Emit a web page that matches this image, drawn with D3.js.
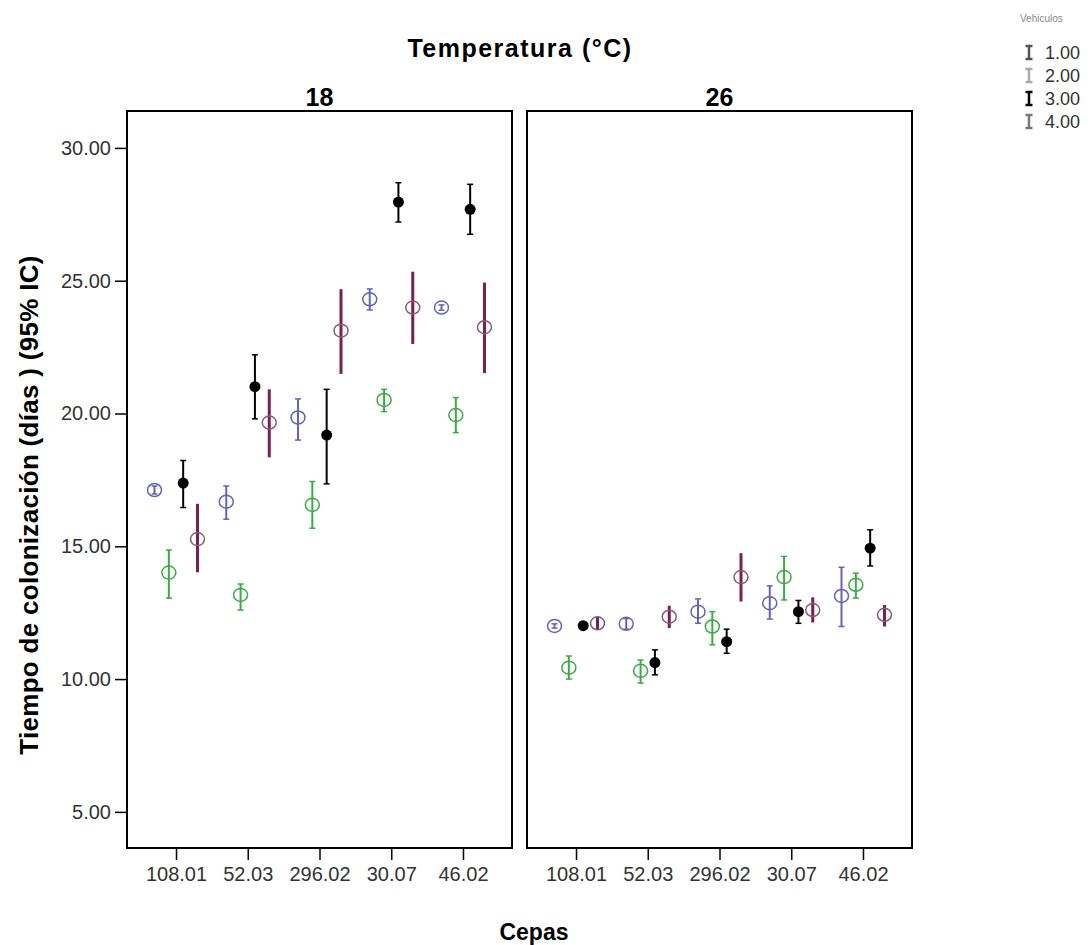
<!DOCTYPE html>
<html><head><meta charset="utf-8">
<script src="https://cdn.jsdelivr.net/npm/d3@7"></script>
<style>body{margin:0;background:#fff;} svg{display:block;font-family:"Liberation Sans",Arial,sans-serif;}</style>
</head><body>
<svg id="c" width="1092" height="945"></svg>
<script>
const cepas = ["108.01","52.03","296.02","30.07","46.02"];
const temperaturas = ["18","26"];
const vehiculos = ["1.00","2.00","3.00","4.00"];
const yTicks = [5,10,15,20,25,30];
// mean, lower, upper per temperatura -> vehiculo -> cepa
const mean18 = [
  [17.12,16.68,19.85,24.30,23.99],
  [14.01,13.17,16.56,20.51,19.94],
  [17.38,21.01,19.19,27.96,27.69],
  [15.27,19.66,23.12,23.99,23.25]];
const low18 = [
  [16.97,16.02,19.00,23.90,23.89],
  [13.05,12.60,15.68,20.07,19.28],
  [16.46,19.80,17.35,27.21,26.75],
  [14.02,18.35,21.49,22.62,21.52]];
const up18 = [
  [17.27,17.27,20.55,24.69,24.09],
  [14.86,13.58,17.44,20.91,20.60],
  [18.23,22.21,20.91,28.69,28.63],
  [16.60,20.91,24.68,25.34,24.93]];
const mean26 = [
  [12.00,12.08,12.54,12.86,13.13],
  [10.43,10.31,11.98,13.84,13.55],
  [12.01,10.62,11.41,12.54,14.93],
  [12.10,12.35,13.84,12.60,12.42]];
const low26 = [
  [11.92,11.88,12.10,12.26,11.98],
  [10.00,9.85,11.29,12.98,13.05],
  [11.93,10.16,10.97,12.10,14.26],
  [11.85,11.92,12.92,12.13,11.98]];
const up26 = [
  [12.08,12.28,13.02,13.51,14.21],
  [10.87,10.72,12.54,14.62,13.99],
  [12.09,11.10,11.88,12.96,15.62],
  [12.35,12.76,14.74,13.08,12.79]];
const colors = ["#6464b4","#3caa46","#000000","#7a1f4f"];
const legendColors = ["#555555","#aaaaaa","#000000","#777777"];

const svg = d3.select("#c");
const panelTop = 111, panelBottom = 848;
const panels = [{x0:127,x1:512,mean:mean18,low:low18,up:up18},{x0:527,x1:912,mean:mean26,low:low26,up:up26}];
const y = d3.scaleLinear().domain([3.64,31.39]).range([panelBottom,panelTop]);

svg.append("text").attr("x",520).attr("y",57).attr("text-anchor","middle")
  .attr("font-size",25).attr("font-weight","bold").attr("letter-spacing",1.5).text("Temperatura (°C)");

panels.forEach((p,pi)=>{
  const x = d3.scalePoint().domain(cepas).range([p.x0,p.x1]).padding(0.683);
  const off = d3.scalePoint().domain(vehiculos).range([-21.5,21.5]);
  const g = svg.append("g");
  svg.append("text").attr("x",(p.x0+p.x1)/2).attr("y",106).attr("text-anchor","middle")
    .attr("font-size",25).attr("font-weight","bold").text(temperaturas[pi]);
  const xa = svg.append("g").attr("transform",`translate(0,${panelBottom})`)
    .call(d3.axisBottom(x).tickSize(12).tickPadding(7));
  xa.select(".domain").remove();
  xa.selectAll("line").attr("stroke","#000").attr("stroke-width",1.5);
  xa.selectAll("text").attr("font-size",20).attr("fill","#333").attr("font-family","Liberation Sans, Arial, sans-serif");
  if(pi===0){
    const ya = svg.append("g").attr("transform",`translate(${p.x0},0)`)
      .call(d3.axisLeft(y).tickValues(yTicks).tickFormat(d3.format(".2f")).tickSize(12).tickPadding(4));
    ya.select(".domain").remove();
    ya.selectAll("line").attr("stroke","#000").attr("stroke-width",1.5);
    ya.selectAll("text").attr("font-size",20).attr("fill","#333").attr("font-family","Liberation Sans, Arial, sans-serif");
  }
  vehiculos.forEach((v,vi)=>{
    cepas.forEach((c,ci)=>{
      const cx = x(c)+off(v);
      const m = p.mean[vi][ci], lo = p.low[vi][ci], hi = p.up[vi][ci];
      const col = colors[vi];
      const sw = vi===3 ? 3 : 2;
      g.append("line").attr("x1",cx).attr("x2",cx).attr("y1",y(lo)).attr("y2",y(hi))
        .attr("stroke",col).attr("stroke-width",sw);
      if(vi!==3){
        [lo,hi].forEach(val=>g.append("line").attr("x1",cx-3).attr("x2",cx+3).attr("y1",y(val)).attr("y2",y(val))
          .attr("stroke",col).attr("stroke-width",1.5));
      }
      if(vi===2){
        g.append("circle").attr("cx",cx).attr("cy",y(m)).attr("r",5.5).attr("fill","#000");
      } else {
        g.append("ellipse").attr("cx",cx).attr("cy",y(m)).attr("rx",7).attr("ry",6.5).attr("fill","none")
          .attr("stroke",vi===3?"#8a5a78":col).attr("stroke-width",1.5);
      }
    });
  });
  svg.append("rect").attr("x",p.x0).attr("y",panelTop).attr("width",p.x1-p.x0).attr("height",panelBottom-panelTop)
    .attr("fill","none").attr("stroke","#000").attr("stroke-width",2);
});

svg.append("text").attr("transform","translate(38,505) rotate(-90)").attr("text-anchor","middle")
  .attr("font-size",26).attr("font-weight","bold").attr("letter-spacing",0.3).text("Tiempo de colonización (días ) (95% IC)");
svg.append("text").attr("x",534).attr("y",940).attr("text-anchor","middle")
  .attr("font-size",23).attr("font-weight","bold").text("Cepas");

svg.append("text").attr("x",1020).attr("y",22).attr("font-size",10).attr("fill","#888").text("Vehiculos");
vehiculos.forEach((v,i)=>{
  const ly = 59 + i*23;
  const lx = 1029;
  const lg = svg.append("g").attr("stroke",legendColors[i]).attr("stroke-width",2.5);
  lg.append("line").attr("x1",lx).attr("x2",lx).attr("y1",ly-13).attr("y2",ly);
  lg.append("line").attr("x1",lx-3.5).attr("x2",lx+3.5).attr("y1",ly-13).attr("y2",ly-13);
  lg.append("line").attr("x1",lx-3.5).attr("x2",lx+3.5).attr("y1",ly).attr("y2",ly);
  svg.append("text").attr("x",1045).attr("y",ly).attr("font-size",18).attr("fill","#333").text(v);
});
</script>
</body></html>
